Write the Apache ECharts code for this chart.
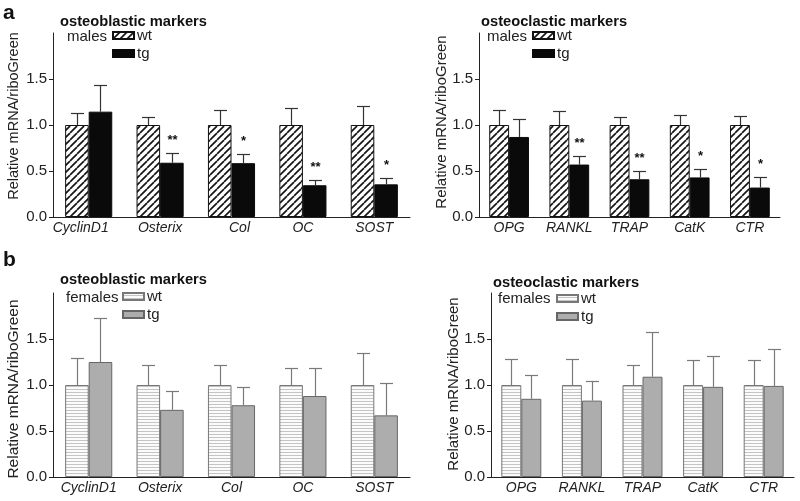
<!DOCTYPE html>
<html>
<head>
<meta charset="utf-8">
<script src="https://cdn.jsdelivr.net/npm/echarts@6/dist/echarts.min.js"></script>
<style>html,body{margin:0;padding:0;background:#fff}#c{width:800px;height:501px}</style>
</head>
<body>
<div id="c"></div>
<script>
// ---- data ----
const blastCategories = ['CyclinD1', 'Osterix', 'Col', 'OC', 'SOST'];
const clastCategories = ['OPG', 'RANKL', 'TRAP', 'CatK', 'CTR'];
const yTickValues = [0, 0.5, 1.0, 1.5];

// males, osteoblastic
const maleBlastWt = [1.0, 1.0, 1.0, 1.0, 1.0];
const maleBlastWtErr = [1.135, 1.084, 1.163, 1.185, 1.21];
const maleBlastTg = [1.145, 0.59, 0.585, 0.345, 0.355];
const maleBlastTgErr = [1.43, 0.695, 0.682, 0.405, 0.425];
const maleBlastSig = ['', '**', '*', '**', '*'];

// males, osteoclastic
const maleClastWt = [1.0, 1.0, 1.0, 1.0, 1.0];
const maleClastWtErr = [1.163, 1.149, 1.087, 1.105, 1.098];
const maleClastTg = [0.87, 0.57, 0.41, 0.43, 0.32];
const maleClastTgErr = [1.063, 0.665, 0.505, 0.52, 0.43];
const maleClastSig = ['', '**', '**', '*', '*'];

// females, osteoblastic
const femaleBlastWt = [1.0, 1.0, 1.0, 1.0, 1.0];
const femaleBlastWtErr = [1.29, 1.22, 1.22, 1.19, 1.35];
const femaleBlastTg = [1.25, 0.73, 0.78, 0.88, 0.67];
const femaleBlastTgErr = [1.73, 0.93, 0.98, 1.18, 1.02];
const femaleBlastSig = ['', '', '', '', ''];

// females, osteoclastic
const femaleClastWt = [1.0, 1.0, 1.0, 1.0, 1.0];
const femaleClastWtErr = [1.28, 1.28, 1.22, 1.27, 1.27];
const femaleClastTg = [0.85, 0.83, 1.09, 0.98, 0.99];
const femaleClastTgErr = [1.11, 1.04, 1.58, 1.32, 1.39];
const femaleClastSig = ['', '', '', '', ''];

// ---- styling ----
const FONT = 'Liberation Sans, Arial, Helvetica, sans-serif';
const BAR_FRAC = 0.33;
// small horizontal nudges of individual category labels (top-left panel only)
const topLeftLabelPad = { 'CyclinD1': [0, 16, 0, 0], 'Col': [0, 0, 0, 16] };

function diagPattern() {
  const s = 7, c = document.createElement('canvas');
  c.width = s; c.height = s;
  const g = c.getContext('2d');
  g.fillStyle = '#fff'; g.fillRect(0, 0, s, s);
  g.strokeStyle = '#151515'; g.lineWidth = 1.7;
  for (const o of [-s, 0, s]) { g.beginPath(); g.moveTo(o, s); g.lineTo(o + s, 0); g.stroke(); }
  return c;
}
function horizPattern() {
  const c = document.createElement('canvas');
  c.width = 4; c.height = 3;
  const g = c.getContext('2d');
  g.fillStyle = '#fbfbfb'; g.fillRect(0, 0, 4, 3);
  g.fillStyle = '#c4c4c4'; g.fillRect(0, 2, 4, 1);
  return c;
}
const diag = { image: diagPattern(), repeat: 'repeat' };
const horiz = { image: horizPattern(), repeat: 'repeat' };

const maleWtStyle = { color: diag, borderColor: '#111', borderWidth: 1 };
const maleTgStyle = { color: '#0a0a0a', borderColor: '#0a0a0a', borderWidth: 1 };
const femWtStyle = { color: horiz, borderColor: '#777', borderWidth: 1 };
const femTgStyle = { color: '#adadad', borderColor: '#666', borderWidth: 1 };

const grids = [
  { left: 53, top: 33, width: 357, height: 184 },
  { left: 479, top: 33, width: 301, height: 184 },
  { left: 53, top: 293, width: 357, height: 184 },
  { left: 491, top: 293, width: 303, height: 184 }
];

function xAxisFor(i, cats, pads) {
  const data = cats.map(c => (pads && pads[c]) ? { value: c, textStyle: { padding: pads[c] } } : c);
  return {
    type: 'category', gridIndex: i, data: data,
    axisLine: { lineStyle: { color: '#222', width: 1 } },
    axisTick: { show: false },
    axisLabel: { interval: 0, hideOverlap: false, fontFamily: FONT, fontSize: 14, fontStyle: 'italic', color: '#222', margin: 4 }
  };
}
function yAxisFor(i) {
  return {
    type: 'value', gridIndex: i, min: 0, max: 2, interval: 0.5,
    splitLine: { show: false },
    axisLine: { show: true, lineStyle: { color: '#222', width: 1 } },
    axisTick: { show: true, length: 4, customValues: yTickValues, lineStyle: { color: '#222' } },
    axisLabel: { customValues: yTickValues, fontFamily: FONT, fontSize: 15, color: '#222', margin: 6,
      formatter: v => Number(v).toFixed(1) }
  };
}

function errRenderer(sig, color) {
  return function (params, api) {
    const ci = api.value(0), side = api.value(1), v = api.value(2), e = api.value(3);
    const base = api.coord([ci, v]);
    const tp = api.coord([ci, e]);
    const bw = api.size([1, 0])[0];
    const x = Math.round(base[0] + (side === 0 ? -1 : 1) * bw * BAR_FRAC / 2) + 0.5;
    const y0 = base[1], y1 = Math.round(tp[1]) + 0.5;
    const children = [
      { type: 'line', shape: { x1: x, y1: y0, x2: x, y2: y1 }, style: { stroke: color, lineWidth: 1.2 } },
      { type: 'line', shape: { x1: x - 6.5, y1: y1, x2: x + 6.5, y2: y1 }, style: { stroke: color, lineWidth: 1.2 } }
    ];
    if (side === 1 && sig[ci]) {
      children.push({ type: 'text', x: x, y: y1 - 7,
        style: { text: sig[ci], align: 'center', verticalAlign: 'bottom', font: 'bold 13px ' + FONT, fill: '#111' } });
    }
    return { type: 'group', children };
  };
}

function panelSeries(i, wt, wtErr, tg, tgErr, sig, names, wtStyle, tgStyle, errColor) {
  const errData = [];
  for (let k = 0; k < wt.length; k++) {
    errData.push([k, 0, wt[k], wtErr[k]]);
    errData.push([k, 1, tg[k], tgErr[k]]);
  }
  return [
    { type: 'bar', name: names[0], xAxisIndex: i, yAxisIndex: i, data: wt, barWidth: (BAR_FRAC * 100) + '%', barGap: '0%',
      itemStyle: wtStyle, silent: true, animation: false },
    { type: 'bar', name: names[1], xAxisIndex: i, yAxisIndex: i, data: tg, barWidth: (BAR_FRAC * 100) + '%', barGap: '0%',
      itemStyle: tgStyle, silent: true, animation: false },
    { type: 'custom', name: 'err' + i, xAxisIndex: i, yAxisIndex: i, data: errData, z: 5, silent: true, animation: false,
      renderItem: errRenderer(sig, errColor) }
  ];
}

function legendFor(left, top, names) {
  return {
    left: left, top: top, orient: 'vertical', itemWidth: 21, itemHeight: 7, itemGap: 3, padding: 0,
    selectedMode: false, icon: 'rect', data: names,
    formatter: n => n.replace('-f', ''),
    textStyle: { fontFamily: FONT, fontSize: 15, color: '#222', padding: [0, 0, 0, -2] }
  };
}

function label(text, x, y, opts) {
  return Object.assign({ type: 'text', x: x, y: y,
    style: Object.assign({ text: text, font: '15px ' + FONT, fill: '#222', verticalAlign: 'middle' }, (opts && opts.style) || {}) },
    (opts && opts.el) || {});
}
function yName(x, y, size) {
  return { type: 'text', x: x, y: y, rotation: Math.PI / 2,
    style: { text: 'Relative mRNA/riboGreen', font: size + 'px ' + FONT, fill: '#222', align: 'center', verticalAlign: 'middle' } };
}

const chart = echarts.init(document.getElementById('c'), null, { renderer: 'canvas' });
chart.setOption({
  backgroundColor: '#fff',
  animation: false,
  grid: grids,
  xAxis: [xAxisFor(0, blastCategories, topLeftLabelPad), xAxisFor(1, clastCategories), xAxisFor(2, blastCategories), xAxisFor(3, clastCategories)],
  yAxis: [yAxisFor(0), yAxisFor(1), yAxisFor(2), yAxisFor(3)],
  legend: [
    legendFor(112, 28, ['wt', 'tg']),
    legendFor(532, 28, ['wt', 'tg']),
    legendFor(122, 289, ['wt-f', 'tg-f']),
    legendFor(556, 291, ['wt-f', 'tg-f'])
  ],
  graphic: [
    label('a', 3, 13, { style: { font: 'bold 21px ' + FONT, fill: '#111' } }),
    label('b', 3, 260, { style: { font: 'bold 21px ' + FONT, fill: '#111' } }),
    label('osteoblastic markers', 60, 22, { style: { font: 'bold 14.7px ' + FONT, fill: '#111' } }),
    label('osteoclastic markers', 481, 22, { style: { font: 'bold 14.7px ' + FONT, fill: '#111' } }),
    label('osteoblastic markers', 60, 280, { style: { font: 'bold 14.7px ' + FONT, fill: '#111' } }),
    label('osteoclastic markers', 493, 283, { style: { font: 'bold 14.7px ' + FONT, fill: '#111' } }),
    label('males', 67, 37),
    label('males', 487, 37),
    label('females', 66, 298),
    label('females', 498, 299),
    yName(14, 116, 14.5),
    yName(442, 122, 15),
    yName(14, 389, 15.5),
    yName(454, 384, 15)
  ],
  series: [].concat(
    panelSeries(0, maleBlastWt, maleBlastWtErr, maleBlastTg, maleBlastTgErr, maleBlastSig, ['wt', 'tg'], maleWtStyle, maleTgStyle, '#333'),
    panelSeries(1, maleClastWt, maleClastWtErr, maleClastTg, maleClastTgErr, maleClastSig, ['wt', 'tg'], maleWtStyle, maleTgStyle, '#333'),
    panelSeries(2, femaleBlastWt, femaleBlastWtErr, femaleBlastTg, femaleBlastTgErr, femaleBlastSig, ['wt-f', 'tg-f'], femWtStyle, femTgStyle, '#7a7a7a'),
    panelSeries(3, femaleClastWt, femaleClastWtErr, femaleClastTg, femaleClastTgErr, femaleClastSig, ['wt-f', 'tg-f'], femWtStyle, femTgStyle, '#7a7a7a')
  )
});
</script>
</body>
</html>
